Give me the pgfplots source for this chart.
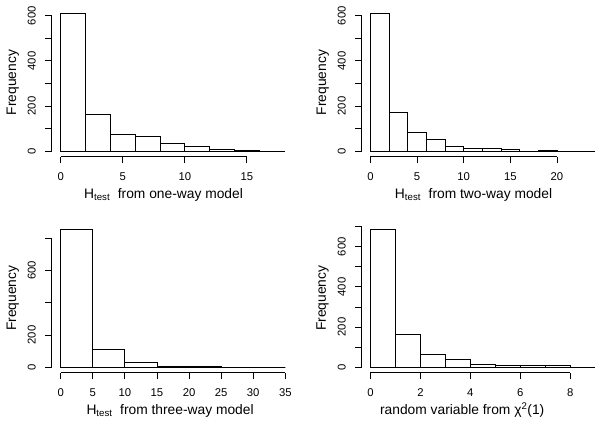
\documentclass[border=0pt]{standalone}
\usepackage{pgfplots}
\pgfplotsset{compat=1.18}
\usepackage{fontspec}
\setmainfont{Liberation Sans}

\pgfplotsset{
  rhist/.style={
    scale only axis, width=242.6pt, anchor=south west, clip=false,
    axis x line*=bottom, axis y line*=left,
    axis line style={draw=none},
    tick align=outside, major tick length=6.5pt,
    tick style={black, line width=0.8pt},
    /pgf/number format/assume math mode=true,
    tick label style={font=\fontsize{11.3}{13}\selectfont},
    label style={font=\fontsize{13.8}{16}\selectfont},
    xticklabel style={anchor=base, yshift=-17.5pt},
    yticklabel style={rotate=90, anchor=base, yshift=9.5pt},
    ylabel={Frequency},
    ylabel style={at={(axis description cs:-0.16,0.5)}, anchor=center, rotate=0},
    scaled ticks=false,
  },
  bars/.style={ybar interval, fill=white, draw=black, line width=0.8pt},
}

\begin{document}
\begin{tikzpicture}
\path[use as bounding box] (0,0) rectangle (603pt,425pt);

% Panel 1
\begin{axis}[rhist, at={(51.7pt,268.2pt)}, height=148.4pt,
  xmin=-0.724, xmax=18.824, ymin=-24.3, ymax=632.3,
  xtick={0,5,10,15}, ytick={0,100,...,600}, yticklabels={0,,200,,400,,600},
  xlabel={H\textsubscript{test}\ \ from one-way model},
  xlabel style={at={(axis description cs:0.461,-0.28)}, anchor=base}]
\addplot[bars] coordinates {(0,608) (2,164) (4,74) (6,65) (8,37) (10,23) (12,9) (14,4) (16,4)};
\draw[line width=0.8pt] (axis cs:0,0) -- (axis cs:18.1,0);
\draw[line width=0.8pt] (axis cs:0,-24.3) -- (axis cs:15,-24.3);
\draw[line width=0.8pt] (axis cs:-0.724,0) -- (axis cs:-0.724,600);
\end{axis}

% Panel 2
\begin{axis}[rhist, at={(361.5pt,268.2pt)}, height=148.4pt,
  xmin=-0.964, xmax=25.064, ymin=-24.3, ymax=632.3,
  xtick={0,5,10,15,20}, ytick={0,100,...,600}, yticklabels={0,,200,,400,,600},
  xlabel={H\textsubscript{test}\ \ from two-way model},
  xlabel style={at={(axis description cs:0.462,-0.28)}, anchor=base}]
\addplot[bars] coordinates {(0,608) (2,174) (4,85) (6,53) (8,22) (10,13) (12,13) (14,9) (16,0) (18,3) (20,3)};
\draw[line width=0.8pt] (axis cs:0,0) -- (axis cs:24.1,0);
\draw[line width=0.8pt] (axis cs:0,-24.3) -- (axis cs:20,-24.3);
\draw[line width=0.8pt] (axis cs:-0.964,0) -- (axis cs:-0.964,600);
\end{axis}

% Panel 3
\begin{axis}[rhist, at={(51.7pt,52.2pt)}, height=148.9pt,
  xmin=-1.4, xmax=36.4, ymin=-34.1, ymax=887.1,
  xtick={0,5,...,35}, ytick={0,200,...,800}, yticklabels={0,200,,600,},
  xlabel={H\textsubscript{test}\ \ from three-way model},
  xlabel style={at={(axis description cs:0.488,-0.279)}, anchor=base}]
\addplot[bars] coordinates {(0,853) (5,109) (10,33) (15,8) (20,4) (25,0) (30,0) (35,0)};
\draw[line width=0.8pt] (axis cs:0,0) -- (axis cs:35,0);
\draw[line width=0.8pt] (axis cs:0,-34.1) -- (axis cs:35,-34.1);
\draw[line width=0.8pt] (axis cs:-1.4,0) -- (axis cs:-1.4,800);
\end{axis}

% Panel 4
\begin{axis}[rhist, at={(361.5pt,52.2pt)}, height=148.9pt,
  xmin=-0.36, xmax=9.36, ymin=-27.4, ymax=713.4,
  xtick={0,2,4,6,8}, ytick={0,100,...,700}, yticklabels={0,,200,,400,,600,},
  xlabel={random variable from χ\textsuperscript{2}(1)},
  xlabel style={at={(axis description cs:0.415,-0.279)}, anchor=base}]
\addplot[bars] coordinates {(0,686) (1,166) (2,65) (3,41) (4,16) (5,10) (6,10) (7,10) (8,10)};
\draw[line width=0.8pt] (axis cs:0,0) -- (axis cs:9,0);
\draw[line width=0.8pt] (axis cs:0,-27.4) -- (axis cs:8,-27.4);
\draw[line width=0.8pt] (axis cs:-0.36,0) -- (axis cs:-0.36,700);
\end{axis}
\end{tikzpicture}
\end{document}
